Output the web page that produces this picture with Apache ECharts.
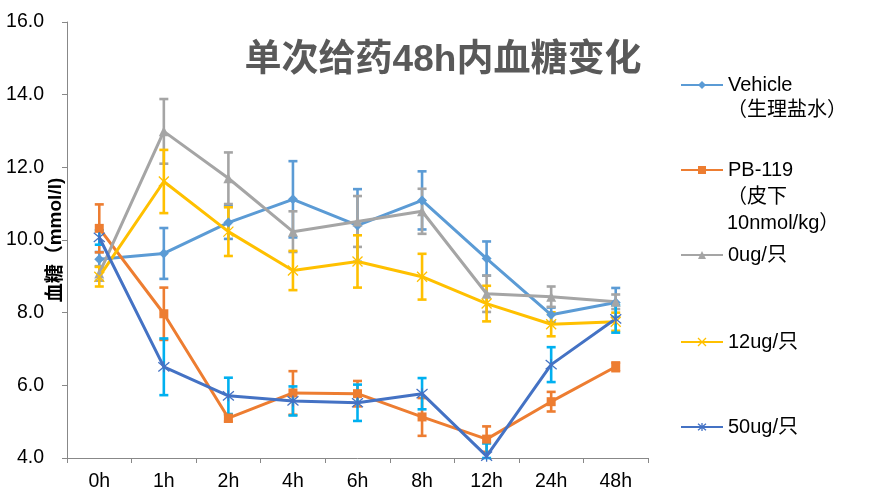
<!DOCTYPE html>
<html>
<head>
<meta charset="utf-8">
<script src="https://cdn.jsdelivr.net/npm/echarts@6/dist/echarts.min.js"></script>
<style>html,body{margin:0;padding:0;background:#fff}#c{width:875px;height:499px}</style>
</head>
<body>
<div id="c"></div>
<script>
var categories = ['0h','1h','2h','4h','6h','8h','12h','24h','48h'];
var yTicks = [4, 16, 2];
var vehicle    = [9.47, 9.63, 10.48, 11.12, 10.40, 11.09, 9.49, 7.94, 8.28];
var vehicleErr = [0.2, 0.7, 0.45, 1.05, 1.0, 0.8, 0.47, 0.2, 0.4];
var pb119      = [10.32, 7.97, 5.10, 5.79, 5.77, 5.13, 4.52, 5.55, 6.51];
var pb119Err   = [0.66, 0.72, 0.1, 0.6, 0.35, 0.52, 0.35, 0.27, 0.12];
var ug0        = [9.08, 12.99, 11.70, 10.23, 10.51, 10.79, 8.52, 8.44, 8.30];
var ug0Err     = [0.2, 0.89, 0.71, 0.56, 0.7, 0.62, 0.5, 0.28, 0.2];
var ug12       = [8.99, 11.61, 10.23, 9.16, 9.41, 8.99, 8.25, 7.68, 7.75];
var ug12Err    = [0.27, 0.87, 0.67, 0.54, 0.72, 0.63, 0.49, 0.33, 0.25];
var ug50       = [10.07, 6.51, 5.71, 5.57, 5.52, 5.77, 4.05, 6.57, 7.83];
var ug50Err    = [0.2, 0.78, 0.5, 0.4, 0.5, 0.43, 0.35, 0.48, 0.38];

var names = ['Vehicle\n（生理盐水）', 'PB-119\n（皮下\n10nmol/kg）', '0ug/只', '12ug/只', '50ug/只'];
var lineColors = ['#5B9BD5', '#ED7D31', '#A5A5A5', '#FFC000', '#4472C4'];
var errColors = ['#5B9BD5', '#ED7D31', '#A5A5A5', '#FFC000', '#00B0F0'];
var values = [vehicle, pb119, ug0, ug12, ug50];
var errs = [vehicleErr, pb119Err, ug0Err, ug12Err, ug50Err];
var symbols = ['diamond', 'rect', 'triangle',
  'path://M0,0L10,10M10,0L0,10',
  'path://M0,0L10,10M10,0L0,10M5,-1L5,11'];
var symbolSizes = [10, 9, 10, 10, 11];
var legendTops = [85, 170, 255, 342, 427];
var font = '"Liberation Sans", Arial, "Noto Sans CJK SC", sans-serif';

var chart = echarts.init(document.getElementById('c'));
var series = [];
for (var s = 0; s < 5; s++) {
  (function (s) {
    var ymin = yTicks[0];
    series.push({
      type: 'custom',
      name: names[s] + '_err',
      z: 2,
      silent: true,
      data: values[s].map(function (v, i) { return [i, Math.max(ymin, v - errs[s][i]), v + errs[s][i]]; }),
      renderItem: function (params, api) {
        var lo = api.coord([api.value(0), api.value(1)]);
        var hi = api.coord([api.value(0), api.value(2)]);
        var hw = 4.5;
        var st = { stroke: errColors[s], lineWidth: 2.6 };
        return {
          type: 'group',
          children: [
            { type: 'line', shape: { x1: lo[0], y1: lo[1], x2: hi[0], y2: hi[1] }, style: st },
            { type: 'line', shape: { x1: hi[0] - hw, y1: hi[1], x2: hi[0] + hw, y2: hi[1] }, style: st },
            { type: 'line', shape: { x1: lo[0] - hw, y1: lo[1], x2: lo[0] + hw, y2: lo[1] }, style: st }
          ]
        };
      }
    });
    var isPath = symbols[s].indexOf('path://') === 0;
    series.push({
      type: 'line',
      name: names[s],
      z: 3,
      data: values[s],
      symbol: symbols[s],
      symbolSize: symbolSizes[s],
      showAllSymbol: true,
      lineStyle: { color: lineColors[s], width: 3 },
      itemStyle: isPath ? { color: 'rgba(0,0,0,0)', borderColor: lineColors[s], borderWidth: 1.3 } : { color: lineColors[s] },
      emphasis: { disabled: true },
      animation: false
    });
  })(s);
}

var legends = names.map(function (n, i) {
  return {
    data: [{ name: n, itemStyle: symbols[i].indexOf('path://') === 0 ? { color: 'rgba(0,0,0,0)', borderColor: lineColors[i], borderWidth: 1.3 } : { color: lineColors[i] } }],
    left: 680,
    top: legendTops[i] - 12,
    padding: 0,
    itemWidth: 42,
    itemHeight: 10,
    selectedMode: false,
    formatter: function (name) { return name.split('\n')[0]; },
    textStyle: { fontSize: 20, lineHeight: 24, color: '#000', fontFamily: font }
  };
});

var extraLines = [
  { text: '（生理盐水）', y: 110 },
  { text: '（皮下', y: 197 },
  { text: '10nmol/kg）', y: 223 }
];

chart.setOption({
  animation: false,
  backgroundColor: '#fff',
  title: {
    text: '单次给药48h内血糖变化',
    left: 438,
    top: 37,
    textAlign: 'center',
    textStyle: { fontSize: 37, fontWeight: 'bold', color: '#595959', fontFamily: font }
  },
  legend: legends,
  graphic: extraLines.map(function (l) {
    return { type: 'text', left: 727, top: l.y - 12, style: { text: l.text, fontSize: 20, lineHeight: 24, fill: '#000', fontFamily: font } };
  }),
  grid: { left: 67, right: 227, top: 22, bottom: 41, containLabel: false, outerBoundsMode: 'none' },
  xAxis: {
    type: 'category',
    data: categories,
    boundaryGap: true,
    axisLine: { lineStyle: { color: '#888', width: 1 } },
    axisTick: { show: true, length: 5, lineStyle: { color: '#888' } },
    axisLabel: { fontSize: 19.5, color: '#000', margin: 14, fontFamily: font }
  },
  yAxis: {
    type: 'value',
    min: yTicks[0],
    max: yTicks[1],
    interval: yTicks[2],
    name: '血糖（mmol/l)',
    nameLocation: 'middle',
    nameGap: 2,
    nameRotate: 90,
    nameMoveOverlap: false,
    nameTextStyle: { fontSize: 19, fontWeight: 'bold', color: '#000', fontFamily: font },
    axisLine: { show: true, lineStyle: { color: '#888', width: 1 } },
    axisTick: { show: true, length: 5, lineStyle: { color: '#888' } },
    splitLine: { show: false },
    axisLabel: { fontSize: 19.5, color: '#000', margin: 23, fontFamily: font, formatter: function (v) { return v.toFixed(1); } }
  },
  series: series
});
</script>
</body>
</html>
